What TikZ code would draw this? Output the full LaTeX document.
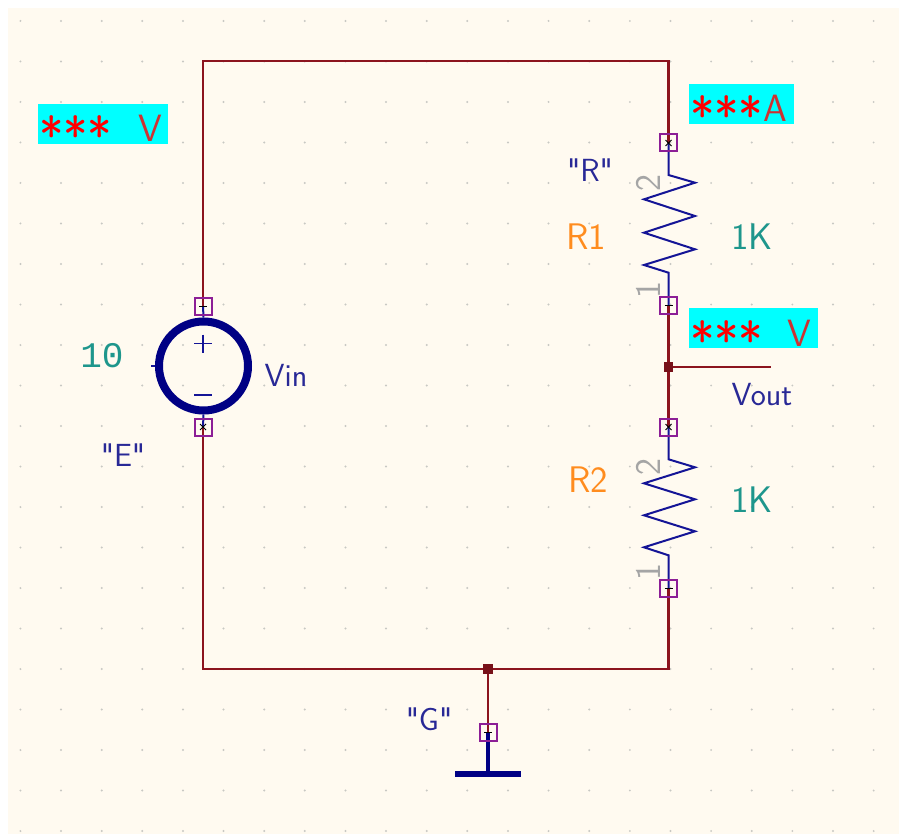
\documentclass[tikz,border=0pt]{standalone}
\usepackage{fontspec}
\usetikzlibrary{backgrounds}
\newfontfamily\valuefont{Liberation Mono}
\newfontfamily\strokefont{Latin Modern Sans}
\definecolor{sheet}{RGB}{255,250,240}
\definecolor{griddot}{RGB}{200,200,195}
\definecolor{wirered}{RGB}{140,20,30}
\definecolor{pinblue}{RGB}{20,20,150}
\definecolor{bodyblue}{RGB}{0,0,132}
\definecolor{pinboxcol}{RGB}{140,30,150}
\definecolor{refcol}{RGB}{255,140,30}
\definecolor{valcol}{RGB}{30,150,140}
\definecolor{namecol}{RGB}{40,40,150}
\definecolor{pincol}{RGB}{165,165,165}
\definecolor{probecol}{RGB}{0,255,255}
\definecolor{unitcol}{RGB}{205,50,50}
\newcommand{\probetext}[3]{\makebox[#1pt][l]{\hspace{2pt}\raisebox{-31pt}[0pt][0pt]{\color{red}\fontsize{52}{52}\selectfont\hspace{-1pt}#2}\color{unitcol}\fontsize{38}{38}\selectfont\raisebox{-18pt}[0pt][0pt]{#3}}}
\begin{document}
\begin{tikzpicture}[x=1pt,y=-1pt]
  \tikzset{every node/.append style={inner sep=0pt},
    wire/.style={wirered,line width=2.4pt},
    lead/.style={pinblue,line width=2pt},
    pinmark/.style={black,line width=1pt},
    pinsq/.style={draw=pinboxcol,line width=2pt,rectangle,minimum size=17pt},
    junction/.style={fill=wirered!85!black,rectangle,minimum size=9.5pt},
    nametext/.style={namecol,font=\strokefont\fontsize{32}{32}\selectfont},
    reftext/.style={refcol,font=\strokefont\fontsize{37}{37}\selectfont},
    valtext/.style={valcol,font=\strokefont\fontsize{37}{37}\selectfont},
    pinnum/.style={pincol,rotate=90,font=\strokefont\fontsize{36}{36}\selectfont},
    probe/.style={fill=probecol,rectangle,minimum height=40pt,font=\strokefont}}
  \useasboundingbox (0,0) rectangle (899,834);

  \coordinate (topleft) at (203,61);
  \coordinate (topright) at (668.5,61);
  \coordinate (botleft) at (203,669);
  \coordinate (botright) at (668.5,669);
  \coordinate (voutend) at (771,367);
  \coordinate (gndbar) at (488,774);
  \coordinate (r1a) at (668.5,175);
  \coordinate (r1b) at (668.5,272.7);
  \coordinate (r2a) at (668.5,459.3);
  \coordinate (r2b) at (668.5,555.3);

  \node [junction] (jout) at (668.5,367) {};
  \node [junction] (jgnd) at (488,669) {};
  \node [pinsq] (vplus) at (203,306) {};
  \node [pinsq] (vminus) at (203,427) {};
  \node [pinsq] (r1top) at (668.5,143) {};
  \node [pinsq] (r1bot) at (668.5,305) {};
  \node [pinsq] (r2top) at (668.5,427) {};
  \node [pinsq] (r2bot) at (668.5,588) {};
  \node [pinsq] (gndpin) at (488,732) {};
  \node [draw=bodyblue,line width=8pt,circle,minimum size=89pt] (vin) at (203.5,366) {};

  \begin{pgfonlayer}{background}
  \fill [sheet] (8,8) rectangle (899,834);
  \foreach \i in {0,...,21}
    \foreach \j in {0,...,20}
      \fill [griddot] (20.4+40.63*\i,21+40.5*\j) circle (1.1);
  \draw [wire] (vplus.center) -- (topleft) -- (topright) -- (r1top.center);
  \draw [wire] (vminus.center) -- (botleft) -- (botright) -- (r2bot.center);
  \draw [wire] (r1bot.center) -- (r2top.center);
  \draw [wire] (jout.center) -- (voutend);
  \draw [wire] (jgnd.center) -- (gndpin.center);
  \draw [lead] (vplus.center) -- (vin.north);
  \draw [lead] (vminus.center) -- (vin.south);
  \draw [lead] (r1top.center) -- (r1a) -- (695,182.7) -- (644,199.3) -- (695,216) -- (644,232.7) -- (695,249.3) -- (644,265) -- (r1b) -- (r1bot.center);
  \draw [lead] (r2top.center) -- (r2a) -- (695,467.3) -- (644,483.3) -- (695,499.3) -- (644,515.3) -- (695,531.3) -- (644,547.3) -- (r2b) -- (r2bot.center);
  \draw [bodyblue,line width=4pt] (gndpin.center) -- (gndbar);
  \end{pgfonlayer}

  \draw [lead,line width=1.5pt] (vin.west) -- ++(-4,0);
  \draw [lead,line width=1.5pt] (194,343.5) -- (212,343.5);
  \draw [lead,line width=1.5pt] (203,334.5) -- (203,352.5);
  \draw [lead,line width=1.5pt] (194,395) -- (212,395);
  \draw [bodyblue,line width=6pt] (gndbar) ++(-33,0) -- ++(66,0);

  \foreach \p in {vplus,r1bot,r2bot,gndpin}
    \draw [pinmark] ([xshift=-4pt]\p.center) -- ([xshift=4pt]\p.center);
  \foreach \p in {vminus,r1top,r2top} {
    \draw [pinmark] ([shift={(-3pt,-3pt)}]\p.center) -- ([shift={(3pt,3pt)}]\p.center);
    \draw [pinmark] ([shift={(-3pt,3pt)}]\p.center) -- ([shift={(3pt,-3pt)}]\p.center);
  }

  \node [probe] (vinprobe) at (103,124) {\probetext{130}{***}{\hspace{26pt}V}};
  \node [probe] (r1probe) at (741.5,104) {\probetext{105}{***}{A}};
  \node [probe] (voutprobe) at (753.5,328) {\probetext{129}{***}{\hspace{24pt}V}};

  \node [valtext,font=\valuefont\fontsize{36}{36}\selectfont] (vinval) at (102,356) {10};
  \node [nametext] (vinname) at (286,375) {Vin};
  \node [nametext] (vinlib) at (123,455) {"E"};
  \node [nametext] (r1lib) at (590,170) {"R"};
  \node [reftext] (r1ref) at (586,237) {R1};
  \node [valtext] (r1val) at (752,237) {1K};
  \node [nametext] (voutname) at (762,395) {Vout};
  \node [reftext] (r2ref) at (588,480) {R2};
  \node [valtext] (r2val) at (752,500) {1K};
  \node [nametext] (gndlib) at (429,719) {"G"};
  \node [pinnum] (r1num2) at (648,183) {2};
  \node [pinnum] (r1num1) at (648,290) {1};
  \node [pinnum] (r2num2) at (648,467) {2};
  \node [pinnum] (r2num1) at (648,572) {1};
\end{tikzpicture}
\end{document}
